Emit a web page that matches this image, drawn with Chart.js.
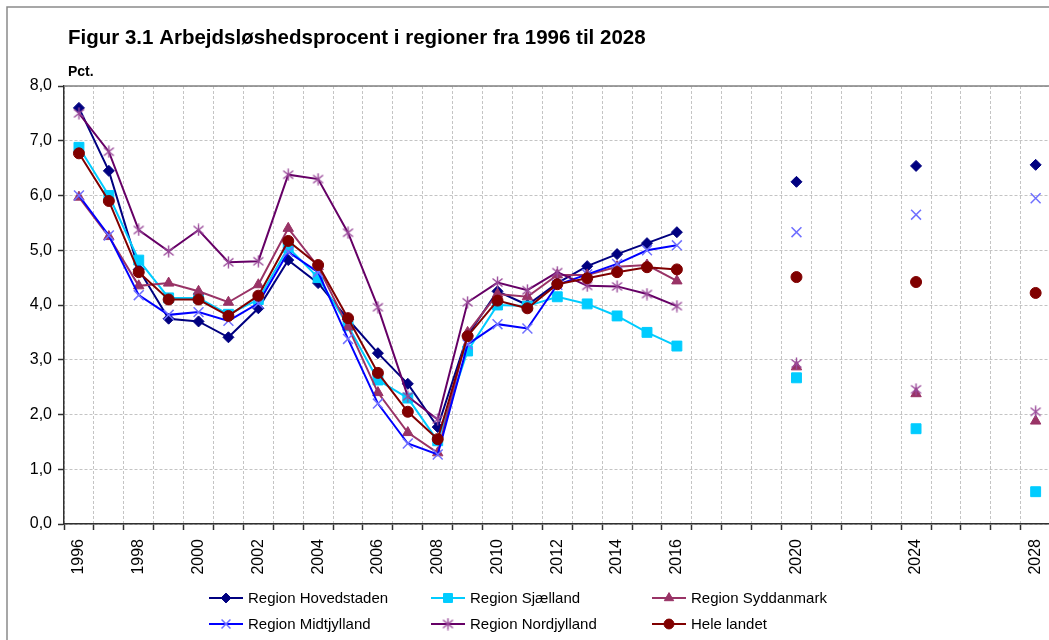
<!DOCTYPE html>
<html>
<head>
<meta charset="utf-8">
<title>Figur 3.1</title>
<script src="https://cdn.jsdelivr.net/npm/chart.js@4/dist/chart.umd.min.js"></script>
<style>
    html, body { margin: 0; padding: 0; background: #fff; overflow: hidden; }
    #wrap { position: relative; width: 1049px; height: 640px; overflow: hidden; }
    canvas { display: block; }
</style>
</head>
<body>
<div id="wrap"><canvas id="chart" width="1064" height="640"></canvas></div>
<script>
// Categories on the x axis (one slot per year, gaps have no data)
var years = [1996, 1997, 1998, 1999, 2000, 2001, 2002, 2003, 2004, 2005, 2006,
             2007, 2008, 2009, 2010, 2011, 2012, 2013, 2014, 2015, 2016, 2017,
             2018, 2019, 2020, 2021, 2022, 2023, 2024, 2025, 2026, 2027, 2028];
var tickYears = [1996, 1998, 2000, 2002, 2004, 2006, 2008, 2010, 2012, 2014, 2016, 2020, 2024, 2028];

// Years with observations / forecasts
var obsYears = [1996, 1997, 1998, 1999, 2000, 2001, 2002, 2003, 2004, 2005, 2006,
                2007, 2008, 2009, 2010, 2011, 2012, 2013, 2014, 2015, 2016, 2020, 2024, 2028];

var hovedstaden = [7.60, 6.45, 4.65, 3.75, 3.70, 3.41, 3.94, 4.82, 4.40, 3.74, 3.12, 2.56, 1.77, 3.45, 4.25, 4.00, 4.40, 4.71, 4.93, 5.13, 5.33, 6.25, 6.54, 6.56];
var sjaelland   = [6.88, 6.00, 4.82, 4.13, 4.13, 3.83, 4.10, 5.05, 4.50, 3.62, 2.63, 2.30, 1.52, 3.16, 4.00, 3.98, 4.15, 4.02, 3.80, 3.50, 3.25, 2.67, 1.74, 0.59];
var syddanmark  = [5.97, 5.25, 4.35, 4.40, 4.25, 4.05, 4.37, 5.40, 4.70, 3.60, 2.40, 1.67, 1.30, 3.50, 4.20, 4.15, 4.55, 4.55, 4.70, 4.73, 4.44, 2.87, 2.38, 1.88];
var midtjylland = [6.00, 5.27, 4.18, 3.82, 3.87, 3.71, 4.03, 4.97, 4.60, 3.38, 2.20, 1.47, 1.27, 3.28, 3.65, 3.57, 4.37, 4.56, 4.75, 5.00, 5.09, 5.33, 5.65, 5.95];
var nordjylland = [7.50, 6.80, 5.37, 4.98, 5.37, 4.78, 4.80, 6.38, 6.30, 5.32, 3.96, 2.33, 1.91, 4.05, 4.41, 4.27, 4.60, 4.35, 4.34, 4.20, 3.98, 2.93, 2.46, 2.05];
var heleLandet  = [6.77, 5.90, 4.60, 4.10, 4.10, 3.80, 4.17, 5.17, 4.73, 3.76, 2.76, 2.05, 1.55, 3.43, 4.08, 3.94, 4.38, 4.49, 4.60, 4.69, 4.65, 4.51, 4.42, 4.22];

var seriesNames = ['Region Hovedstaden', 'Region Sjælland', 'Region Syddanmark',
                   'Region Midtjylland', 'Region Nordjylland', 'Hele landet'];

var FONT = '"Liberation Sans", Arial, sans-serif';

// spread the observed values over the full year axis
function toYears(vals) {
    return years.map(function (y) {
        var i = obsYears.indexOf(y);
        return i >= 0 ? vals[i] : null;
    });
}

// Excel style asterisk marker (vertical bar + X)
function asterisk(colour) {
    var c = document.createElement('canvas');
    c.width = 13; c.height = 13;
    var g = c.getContext('2d');
    g.strokeStyle = colour;
    g.lineWidth = 1.4;
    g.beginPath();
    g.moveTo(6.5, 0.5);  g.lineTo(6.5, 12.5);
    g.moveTo(1.5, 2.5);  g.lineTo(11.5, 10.5);
    g.moveTo(11.5, 2.5); g.lineTo(1.5, 10.5);
    g.stroke();
    return c;
}

function series(label, vals, line, marker, style, radius, order) {
    return {
        label: label,
        data: toYears(vals),
        borderColor: line,
        backgroundColor: marker,
        borderWidth: 2,
        pointStyle: style,
        pointRadius: radius,
        pointHoverRadius: radius,
        pointBackgroundColor: marker,
        pointBorderColor: marker,
        pointBorderWidth: style === 'crossRot' ? 1.5 : 1,
        spanGaps: false,
        tension: 0,
        order: order
    };
}

var datasets = [
    series(seriesNames[0], hovedstaden, '#000080', '#000080', 'rectRot', 5.5, 6),
    series(seriesNames[1], sjaelland,   '#00CCFF', '#00CCFF', 'rect',    7,   5),
    series(seriesNames[2], syddanmark,  '#993366', '#993366', 'triangle', 6,  4),
    series(seriesNames[3], midtjylland, '#0000FF', '#7070FF', 'crossRot', 7,  3),
    series(seriesNames[4], nordjylland, '#660066', '#9A4A9A', asterisk('#9A4A9A'), 6, 2),
    series(seriesNames[5], heleLandet,  '#800000', '#800000', 'circle',  5.5, 1)
];

// title, "Pct.", outer frame, top border of plot and the legend
var decor = {
    id: 'decor',
    afterDraw: function (chart) {
        var ctx = chart.ctx;
        var area = chart.chartArea;
        ctx.save();

        ctx.strokeStyle = '#8a8a8a';
        ctx.lineWidth = 1.5;
        ctx.beginPath();
        ctx.moveTo(7, 700);
        ctx.lineTo(7, 7);
        ctx.lineTo(1100, 7);
        ctx.stroke();

        ctx.strokeStyle = '#808080';
        ctx.lineWidth = 1.5;
        ctx.beginPath();
        ctx.moveTo(area.left, area.top);
        ctx.lineTo(area.right, area.top);
        ctx.stroke();

        ctx.fillStyle = '#000';
        ctx.textBaseline = 'middle';
        ctx.textAlign = 'left';
        ctx.font = 'bold 20.5px ' + FONT;
        ctx.fillText('Figur 3.1 Arbejdsløshedsprocent i regioner fra 1996 til 2028', 68, 38);
        ctx.font = 'bold 14px ' + FONT;
        ctx.fillText('Pct.', 68, 72);

        var colX = [209, 431, 652];
        var rowY = [598, 624];
        ctx.font = '15px ' + FONT;
        chart.data.datasets.forEach(function (ds, i) {
            var x = colX[i % 3];
            var y = rowY[Math.floor(i / 3)];
            ctx.strokeStyle = ds.borderColor;
            ctx.lineWidth = 2;
            ctx.beginPath();
            ctx.moveTo(x, y);
            ctx.lineTo(x + 34, y);
            ctx.stroke();
            ctx.fillStyle = ds.pointBackgroundColor;
            ctx.strokeStyle = ds.pointBorderColor;
            ctx.lineWidth = ds.pointBorderWidth;
            Chart.helpers.drawPoint(ctx, {
                pointStyle: ds.pointStyle,
                rotation: 0,
                radius: ds.pointRadius * 0.9,
                borderWidth: ds.pointBorderWidth
            }, x + 17, y);
            ctx.fillStyle = '#000';
            ctx.fillText(ds.label, x + 39, y + 1);
        });
        ctx.restore();
    }
};

new Chart(document.getElementById('chart'), {
    type: 'line',
    data: { labels: years, datasets: datasets },
    plugins: [decor],
    options: {
        responsive: false,
        animation: false,
        devicePixelRatio: 1,
        layout: { padding: { left: 0, right: 10, top: 86, bottom: 0 } },
        plugins: {
            legend: { display: false },
            title: { display: false },
            tooltip: { enabled: false }
        },
        scales: {
            x: {
                type: 'category',
                offset: true,
                afterFit: function (scale) { scale.height = 116; },
                grid: {
                    offset: true,
                    color: '#c4c4c4',
                    lineWidth: 1,
                    drawTicks: true,
                    tickLength: 6,
                    tickColor: '#303030',
                    tickWidth: 1.5,
                    tickBorderDash: []
                },
                border: { display: true, color: '#303030', width: 1.5, dash: [3, 2] },
                ticks: {
                    autoSkip: false,
                    maxRotation: 90,
                    minRotation: 90,
                    padding: 9,
                    color: '#000',
                    font: { family: FONT, size: 16 },
                    callback: function (v, i) {
                        var y = years[i];
                        return tickYears.indexOf(y) >= 0 ? String(y) : '';
                    }
                }
            },
            y: {
                min: 0,
                max: 8,
                afterFit: function (scale) { scale.width = 64; },
                grid: {
                    color: '#c4c4c4',
                    lineWidth: 1,
                    drawTicks: true,
                    tickLength: 6,
                    tickColor: '#303030',
                    tickWidth: 1.5,
                    tickBorderDash: []
                },
                border: { display: true, color: '#303030', width: 1.5, dash: [3, 2] },
                ticks: {
                    stepSize: 1,
                    padding: 6,
                    color: '#000',
                    font: { family: FONT, size: 16 },
                    callback: function (v) { return v.toFixed(1).replace('.', ','); }
                }
            }
        }
    }
});
</script>
</body>
</html>
